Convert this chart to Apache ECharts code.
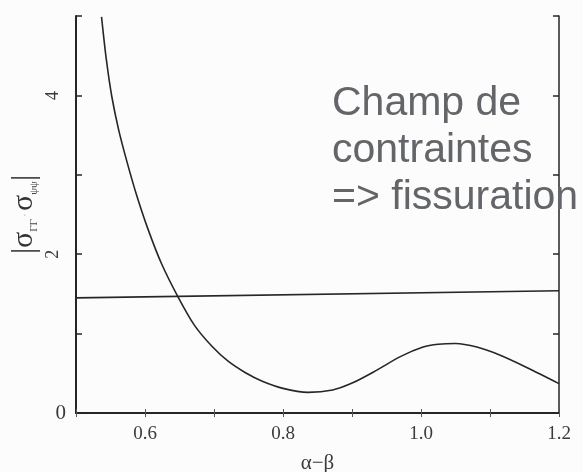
<!DOCTYPE html>
<html>
<head>
<meta charset="utf-8">
<script src="https://cdn.jsdelivr.net/npm/echarts@6/dist/echarts.min.js"></script>
<style>
  html, body { margin: 0; padding: 0; background: #fbfcfb; }
  #chart { width: 583px; height: 472px; }
</style>
</head>
<body>
<div id="chart"></div>
<script>
// curve |s_rr - s_pp| vs alpha-beta
const curveX = [0.537, 0.544, 0.552, 0.562, 0.574, 0.588, 0.605, 0.624, 0.648, 0.672, 0.697, 0.720,
                0.745, 0.770, 0.800, 0.836, 0.872, 0.901, 0.936, 0.970, 1.003, 1.025, 1.050, 1.081,
                1.114, 1.154, 1.200];
const curveY = [4.99, 4.45, 3.98, 3.56, 3.16, 2.74, 2.30, 1.88, 1.46, 1.10, 0.84, 0.655,
                0.51, 0.40, 0.31, 0.26, 0.29, 0.38, 0.54, 0.71, 0.83, 0.865, 0.875, 0.83,
                0.73, 0.57, 0.37];
// threshold line (slightly tilted in the scan)
const limitX = [0.5, 1.2];
const limitY = [1.45, 1.54];
const xLabels = ['0.6', '0.8', '1.0', '1.2'];
const yLabelsFlat = ['0'];
const yLabelsTurned = ['2', '4'];
const noteLines = ['Champ de', 'contraintes', '=> fissuration'];

const ink = '#262626';
const serif = '"Liberation Serif", "DejaVu Serif", serif';

const chart = echarts.init(document.getElementById('chart'));

// only keep the labels printed on the original
const pick = (list, digits) => v => {
    const s = v.toFixed(digits);
    return list.indexOf(s) >= 0 ? s : '';
};

const xCommon = { type: 'value', min: 0.5, max: 1.2, interval: 0.1, splitLine: { show: false } };
const yCommon = { type: 'value', min: 0, max: 5, interval: 1, splitLine: { show: false } };

chart.setOption({
    backgroundColor: '#fbfcfb',
    animation: false,
    grid: { left: 76, right: 24, top: 16, bottom: 59, outerBoundsMode: 'none' },
    xAxis: [
        Object.assign({}, xCommon, {
            position: 'bottom',
            axisLine: { lineStyle: { color: ink, width: 2 } },
            axisTick: { inside: true, length: 4, lineStyle: { color: '#555', width: 1 } },
            axisLabel: { formatter: pick(xLabels, 1), color: '#3a3a3a', fontFamily: serif, fontSize: 19, margin: 12 },
            name: 'α−β', nameLocation: 'middle', nameGap: 40,
            nameTextStyle: { color: '#3a3a3a', fontFamily: serif, fontSize: 21 }
        }),
        Object.assign({}, xCommon, {
            position: 'top',
            axisLine: { lineStyle: { color: ink, width: 2 } },
            axisTick: { inside: true, length: 4, lineStyle: { color: '#555', width: 1 } },
            axisLabel: { show: false }
        })
    ],
    yAxis: [
        Object.assign({}, yCommon, {
            position: 'left',
            axisLine: { lineStyle: { color: ink, width: 2 } },
            axisTick: { inside: true, length: 6, lineStyle: { color: ink, width: 1.5 } },
            axisLabel: { formatter: pick(yLabelsFlat, 0), color: '#3a3a3a', fontFamily: serif, fontSize: 21, margin: 10 },
            name: '{b||}{s|σ}{sub|ΓΓ}{m|·}{s|σ}{sub|ψψ}{b||}',
            nameLocation: 'middle', nameGap: 36, nameRotate: 90,
            nameTextStyle: {
                color: '#333',
                rich: {
                    b: { fontSize: 31, fontFamily: serif, color: '#333' },
                    s: { fontSize: 30, fontFamily: serif, color: '#333' },
                    m: { fontSize: 12, color: '#bbb', padding: [0, 2, 0, 2] },
                    sub: { fontSize: 11, fontFamily: serif, color: '#444', verticalAlign: 'bottom', padding: [12, 0, 0, 0] }
                }
            }
        }),
        Object.assign({}, yCommon, {
            position: 'left',
            axisLine: { show: false },
            axisTick: { show: false },
            axisLabel: { formatter: pick(yLabelsTurned, 0), rotate: 90, color: '#3a3a3a', fontFamily: serif, fontSize: 18, margin: 14 }
        }),
        Object.assign({}, yCommon, {
            position: 'right',
            axisLine: { lineStyle: { color: ink, width: 1.5 } },
            axisTick: { inside: true, length: 6, lineStyle: { color: ink, width: 1.5 } },
            axisLabel: { show: false }
        })
    ],
    series: [
        {
            type: 'line',
            data: curveX.map((x, i) => [x, curveY[i]]),
            smooth: 0.3,
            symbol: 'none',
            lineStyle: { color: ink, width: 1.6 },
            silent: true
        },
        {
            type: 'line',
            data: limitX.map((x, i) => [x, limitY[i]]),
            symbol: 'none',
            lineStyle: { color: ink, width: 1.6 },
            silent: true
        }
    ],
    graphic: [{
        type: 'text',
        left: 332,
        top: 80,
        z: 10,
        style: {
            text: noteLines.join('\n'),
            font: '41px "Liberation Sans", Arial, sans-serif',
            fill: '#636569',
            lineHeight: 47
        }
    }]
});
</script>
</body>
</html>
